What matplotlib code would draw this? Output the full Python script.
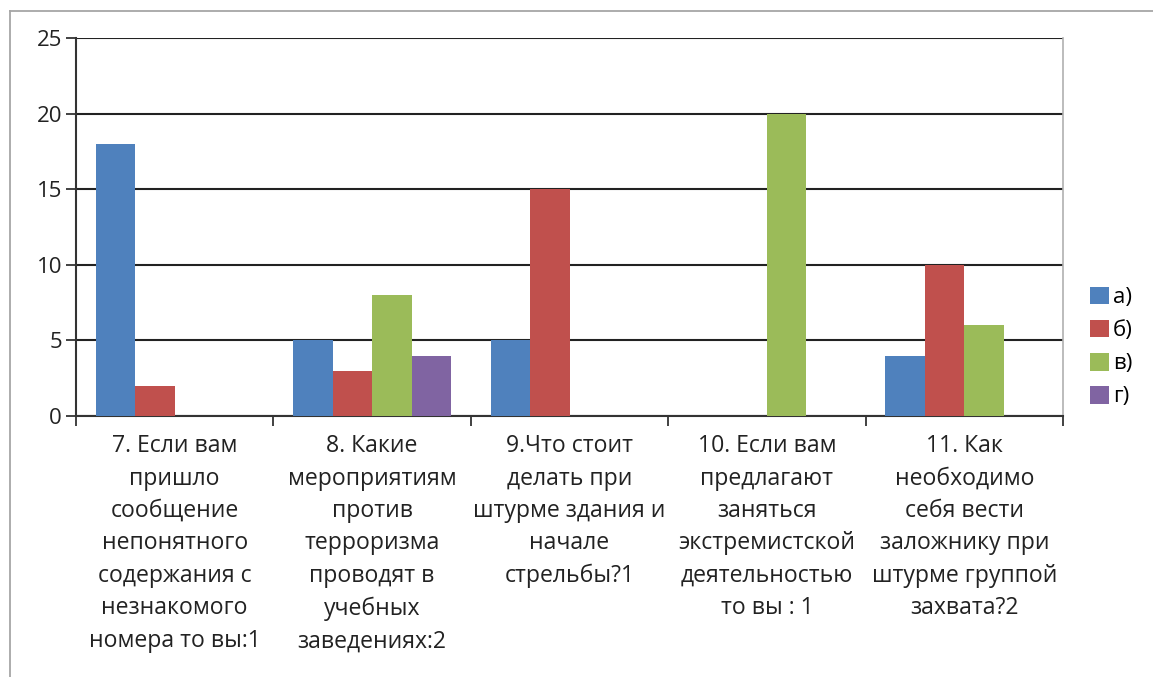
import numpy as np
import matplotlib.pyplot as plt
from matplotlib.lines import Line2D

plt.rcParams['font.family'] = ['Open Sans', 'DejaVu Sans']

questions = [
    "7. Если вам\nпришло\nсообщение\nнепонятного\nсодержания с\nнезнакомого\nномера то вы:1",
    "8. Какие\nмероприятиям\nпротив\nтерроризма\nпроводят в\nучебных\nзаведениях:2",
    "9.Что стоит\nделать при\nштурме здания и\nначале\nстрельбы?1",
    "10. Если вам\nпредлагают\nзаняться\nэкстремистской\nдеятельностью\nто вы : 1",
    "11. Как\nнеобходимо\nсебя вести\nзаложнику при\nштурме группой\nзахвата?2",
]
series_names = ['а)', 'б)', 'в)', 'г)']
vals_a = [18, 5, 5, 0, 4]
vals_b = [2, 3, 15, 0, 10]
vals_v = [0, 8, 0, 20, 6]
vals_g = [0, 4, 0, 0, 0]
colors = ['#4F81BD', '#C0504D', '#9BBB59', '#8064A2']

fig = plt.figure(figsize=(11.53, 6.77), dpi=100)
ax = fig.add_axes([76/1153, 1-416/677, (1063-76)/1153, (416-38)/677])

x = np.arange(len(questions))
w = 0.2
for i, (vals, name) in enumerate(zip([vals_a, vals_b, vals_v, vals_g], series_names)):
    ax.bar(x + (i - 1.5) * w, vals, w, color=colors[i], label=name, zorder=3)

ax.set_xlim(-0.5, len(questions) - 0.5)
ax.set_ylim(0, 25)
ax.set_yticks(range(0, 26, 5))
ax.yaxis.grid(True, color='#222222', linewidth=1.5, zorder=0)
ax.set_axisbelow(True)

ax.set_xticks(np.arange(-0.5, len(questions), 1))
ax.set_xticklabels([])
ax.set_xticks(x, minor=True)
ax.set_xticklabels(questions, minor=True, fontsize=16.6, linespacing=1.47,
                   color='#222222', va='top')
ax.tick_params(axis='x', which='minor', length=0, pad=13)
ax.tick_params(axis='x', which='major', length=7, width=1.3, color='#333333')
ax.tick_params(axis='y', length=7, width=1.3, color='#333333', labelsize=16,
               labelcolor='#222222', pad=3)

for s in ['left', 'bottom']:
    ax.spines[s].set_color('#333333')
    ax.spines[s].set_linewidth(1.5)
ax.spines['top'].set_visible(False)
ax.spines['right'].set_color('#b0b0b0')
ax.spines['right'].set_linewidth(1.2)

ax.legend(loc='center left', bbox_to_anchor=(1081/1153, 1-347/677),
          bbox_transform=fig.transFigure, frameon=False, fontsize=16,
          handlelength=0.85, handleheight=0.85, handletextpad=0.2,
          labelspacing=0.52, borderaxespad=0)

# outer chart border
fig.add_artist(Line2D([10/1153, 10/1153], [0, 1-11/677], transform=fig.transFigure,
                      color='#a6a6a6', linewidth=1.3))
fig.add_artist(Line2D([10/1153, 1], [1-11/677, 1-11/677], transform=fig.transFigure,
                      color='#a6a6a6', linewidth=1.3))

fig.savefig('out.png', dpi=100)
